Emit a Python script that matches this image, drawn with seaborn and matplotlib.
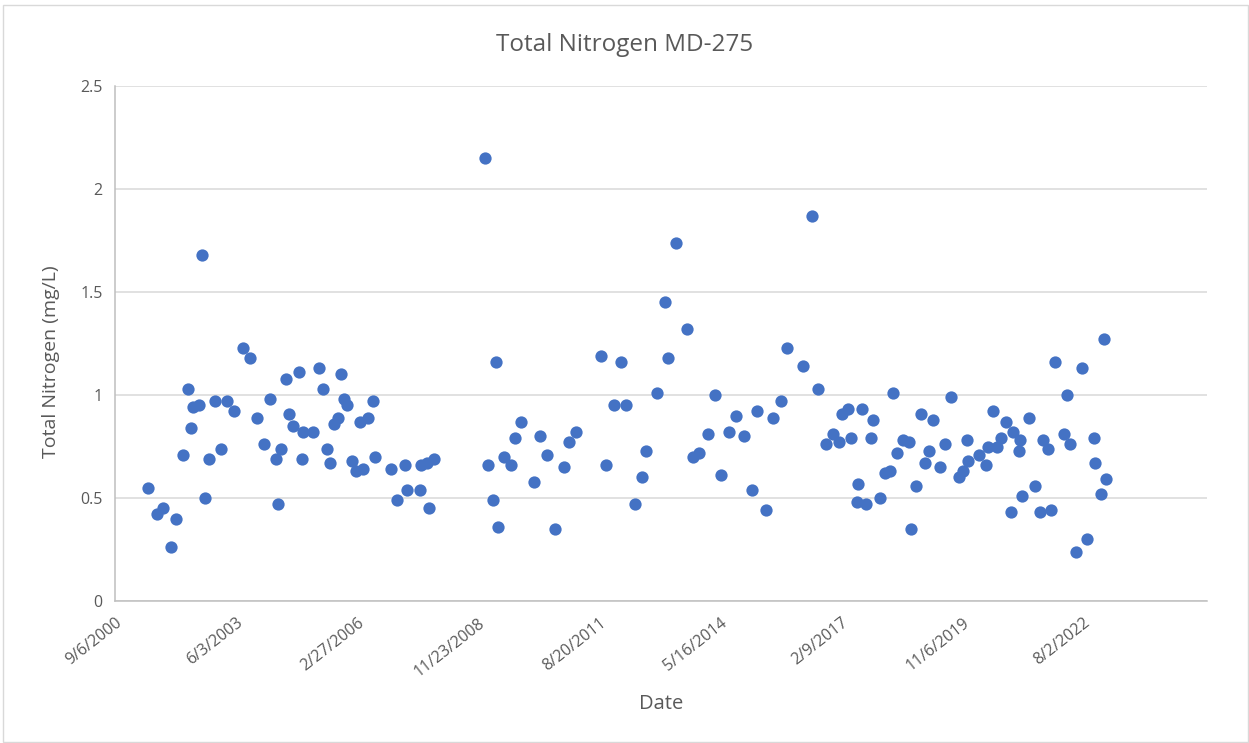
#Total Nitrogen at station MD-275, scatter of samples over time
import pandas as pd
import numpy as np
import matplotlib
matplotlib.use("Agg")
import matplotlib.pyplot as plt
import seaborn as sns

# sample dates and total nitrogen (mg/L)
sample_dates = [
    "2001-06-03", "2001-08-16", "2001-10-10", "2001-12-12", "2002-01-20",
    "2002-03-19", "2002-04-29", "2002-05-26", "2002-06-14", "2002-07-31",
    "2002-08-27", "2002-09-21", "2002-10-24", "2002-12-08", "2003-01-29",
    "2003-03-17", "2003-05-16", "2003-07-27", "2003-09-25", "2003-11-19",
    "2004-01-19", "2004-03-11", "2004-04-25", "2004-05-12", "2004-06-05",
    "2004-07-19", "2004-08-13", "2004-09-15", "2004-11-03", "2004-12-01",
    "2004-12-09", "2005-02-24", "2005-04-17", "2005-05-20", "2005-06-23",
    "2005-07-20", "2005-08-22", "2005-09-21", "2005-10-18", "2005-11-12",
    "2005-12-07", "2006-01-15", "2006-02-17", "2006-03-22", "2006-04-18",
    "2006-05-24", "2006-07-04", "2006-07-21", "2006-12-03", "2007-01-24",
    "2007-03-26", "2007-04-11", "2007-07-30", "2007-08-05", "2007-09-23",
    "2007-10-15", "2007-11-22", "2009-01-20", "2009-02-15", "2009-03-22",
    "2009-04-21", "2009-05-07", "2009-06-21", "2009-08-17", "2009-09-24",
    "2009-11-10", "2010-02-23", "2010-04-13", "2010-06-13", "2010-08-16",
    "2010-10-31", "2010-12-12", "2011-02-08", "2011-09-02", "2011-10-14",
    "2011-12-19", "2012-02-11", "2012-03-24", "2012-06-09", "2012-08-08",
    "2012-09-11", "2012-12-08", "2013-02-11", "2013-03-12", "2013-05-17",
    "2013-08-10", "2013-09-28", "2013-11-22", "2014-02-05", "2014-03-30",
    "2014-05-18", "2014-07-25", "2014-09-23", "2014-11-23", "2015-01-31",
    "2015-03-11", "2015-05-27", "2015-07-21", "2015-09-27", "2015-11-16",
    "2016-03-30", "2016-06-08", "2016-07-26", "2016-10-04", "2016-12-01",
    "2017-01-17", "2017-02-16", "2017-04-06", "2017-04-28", "2017-06-19",
    "2017-06-27", "2017-07-28", "2017-08-30", "2017-10-08", "2017-10-24",
    "2017-12-24", "2018-02-03", "2018-03-16", "2018-04-08", "2018-05-11",
    "2018-06-29", "2018-08-23", "2018-09-06", "2018-10-17", "2018-11-30",
    "2019-01-02", "2019-02-04", "2019-03-04", "2019-04-30", "2019-06-11",
    "2019-08-04", "2019-10-09", "2019-11-06", "2019-12-09", "2019-12-20",
    "2020-03-20", "2020-05-17", "2020-06-05", "2020-07-16", "2020-08-13",
    "2020-09-18", "2020-10-29", "2020-12-10", "2020-12-26", "2021-02-15",
    "2021-02-21", "2021-03-10", "2021-05-07", "2021-06-23", "2021-08-04",
    "2021-09-02", "2021-10-09", "2021-11-03", "2021-12-06", "2022-02-18",
    "2022-03-17", "2022-04-11", "2022-05-28", "2022-07-21", "2022-09-01",
    "2022-10-26", "2022-11-03", "2022-12-23", "2023-01-19", "2023-02-02",
]
total_nitrogen = [
    0.55, 0.42, 0.45, 0.26, 0.40,
    0.71, 1.03, 0.84, 0.94, 0.95,
    1.68, 0.50, 0.69, 0.97, 0.74,
    0.97, 0.92, 1.23, 1.18, 0.89,
    0.76, 0.98, 0.69, 0.47, 0.74,
    1.08, 0.91, 0.85, 1.11, 0.69,
    0.82, 0.82, 1.13, 1.03, 0.74,
    0.67, 0.86, 0.89, 1.10, 0.98,
    0.95, 0.68, 0.63, 0.87, 0.64,
    0.89, 0.97, 0.70, 0.64, 0.49,
    0.66, 0.54, 0.54, 0.66, 0.67,
    0.45, 0.69, 2.15, 0.66, 0.49,
    1.16, 0.36, 0.70, 0.66, 0.79,
    0.87, 0.58, 0.80, 0.71, 0.35,
    0.65, 0.77, 0.82, 1.19, 0.66,
    0.95, 1.16, 0.95, 0.47, 0.60,
    0.73, 1.01, 1.45, 1.18, 1.74,
    1.32, 0.70, 0.72, 0.81, 1.00,
    0.61, 0.82, 0.90, 0.80, 0.54,
    0.92, 0.44, 0.89, 0.97, 1.23,
    1.14, 1.87, 1.03, 0.76, 0.81,
    0.77, 0.91, 0.93, 0.79, 0.48,
    0.57, 0.93, 0.47, 0.79, 0.88,
    0.50, 0.62, 0.63, 1.01, 0.72,
    0.78, 0.77, 0.35, 0.56, 0.91,
    0.67, 0.73, 0.88, 0.65, 0.76,
    0.99, 0.60, 0.63, 0.78, 0.68,
    0.71, 0.66, 0.75, 0.92, 0.75,
    0.79, 0.87, 0.43, 0.82, 0.73,
    0.78, 0.51, 0.89, 0.56, 0.43,
    0.78, 0.74, 0.44, 1.16, 0.81,
    1.00, 0.76, 0.24, 1.13, 0.30,
    0.79, 0.67, 0.52, 1.27, 0.59,
]

df = pd.DataFrame({"Date": pd.to_datetime(sample_dates), "TN": total_nitrogen})

sns.set_style("white")
plt.rcParams["font.family"] = ["Open Sans", "DejaVu Sans"]

grey_text = "#595959"
fig = plt.figure(figsize=(12.49, 7.43), dpi=100)
ax = fig.add_axes([115 / 1249, 1 - 601 / 743, 1092 / 1249, 515 / 743])

sns.scatterplot(data=df, x="Date", y="TN", ax=ax, color="#4472C4",
                s=78, linewidth=0, zorder=3)

# axis limits / ticks like the excel chart (1000 day steps)
start = pd.Timestamp("2000-09-06")
ax.set_xlim(start, start + pd.Timedelta(days=9018))
ax.set_ylim(0, 2.5)
xticks = pd.date_range(start, periods=9, freq="1000D")
ax.set_xticks(xticks)
ax.set_xticklabels([f"{d.month}/{d.day}/{d.year}" for d in xticks],
                   rotation=38, ha="right", rotation_mode="anchor")
ax.set_yticks([0, 0.5, 1, 1.5, 2, 2.5])
ax.set_yticklabels(["0", "0.5", "1", "1.5", "2", "2.5"])
ax.tick_params(axis="both", length=0, labelsize=11.5, labelcolor=grey_text)
ax.tick_params(axis="x", pad=10)
ax.tick_params(axis="y", pad=9)

ax.yaxis.grid(True, color="#D9D9D9", linewidth=1.1)
ax.xaxis.grid(False)
for side in ["top", "right"]:
    ax.spines[side].set_visible(False)
for side in ["left", "bottom"]:
    ax.spines[side].set_color("#BFBFBF")
    ax.spines[side].set_linewidth(1.1)

# title is centred on the whole chart, not the plot area
ax.set_title("Total Nitrogen MD-275", fontsize=17.5, color=grey_text, pad=25,
             x=(624.5 - 115) / 1092)
ax.set_xlabel("Date", fontsize=14.5, color=grey_text)
ax.set_ylabel("Total Nitrogen (mg/L)", fontsize=14, color=grey_text)
ax.xaxis.set_label_coords(0.5, -0.18)
ax.yaxis.set_label_coords(-0.05, 0.465)

# chart area border
fig.patches.append(plt.Rectangle((3 / 1249, 0.002), 1 - 4 / 1249, 1 - 6 / 743,
                                 transform=fig.transFigure, fill=False,
                                 edgecolor="#D9D9D9", linewidth=1))

fig.savefig("out.png", dpi=100)
